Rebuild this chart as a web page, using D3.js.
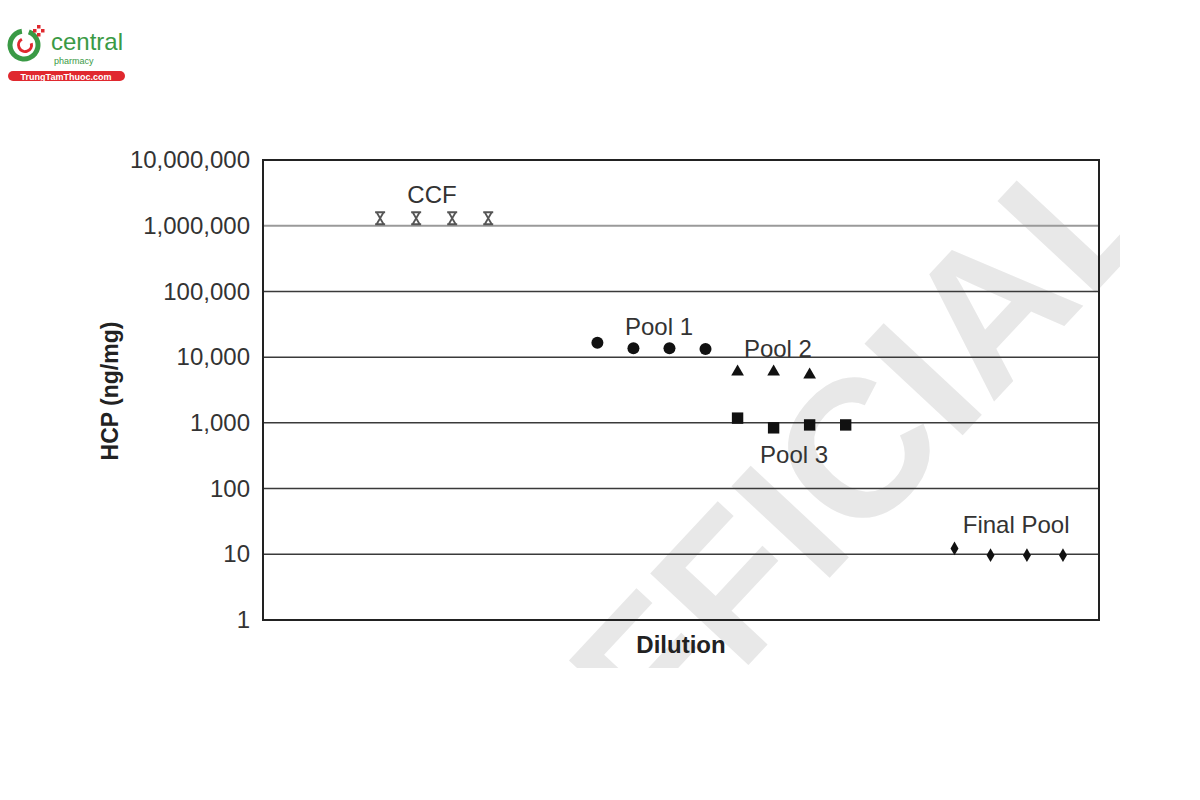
<!DOCTYPE html>
<html><head><meta charset="utf-8">
<script src="https://cdn.jsdelivr.net/npm/d3@7"></script>
<style>body{margin:0;background:#fff}svg{display:block}text{font-family:"Liberation Sans",Arial,Helvetica,sans-serif}</style>
</head><body>
<svg id="c" width="1200" height="800"></svg>
<script>
// ---- data ----
const yTicks = [1, 10, 100, 1000, 10000, 100000, 1000000, 10000000];
const ccfX = [3.25, 4.25, 5.25, 6.25];
const ccfY = [1300000, 1300000, 1300000, 1300000];
const pool1X = [9.28, 10.28, 11.28, 12.28];
const pool1Y = [16500, 13600, 13600, 13300];
const pool2X = [13.17, 14.17, 15.17];
const pool2Y = [6000, 6000, 5400];
const pool3X = [13.17, 14.17, 15.17, 16.17];
const pool3Y = [1180, 840, 930, 930];
const finalX = [19.19, 20.19, 21.2, 22.2];
const finalY = [12.3, 9.7, 9.7, 9.7];
const labels = ["CCF", "Pool 1", "Pool 2", "Pool 3", "Final Pool"];
const labelX = [4.69, 10.99, 14.29, 14.74, 20.9];
const labelY = [2200000, 21500, 10000, 245, 21];

const svg = d3.select("#c");
const L = 263, R = 1099, T = 160, B = 620;
const x = d3.scaleLinear().domain([0, 23.2]).range([L, R]);
const y = d3.scaleLog().domain([1, 1e7]).range([B, T]);

// watermark
svg.append("clipPath").attr("id","wm").append("rect").attr("x",0).attr("y",0).attr("width",1120).attr("height",668);
svg.append("g").attr("clip-path","url(#wm)")
  .append("text").attr("transform","translate(1168,215) rotate(-47)")
  .attr("text-anchor","end").attr("font-size",195).attr("font-weight","bold")
  .attr("fill","#e8e8e8").text("OFFICIAL");

// gridlines
svg.append("g").selectAll("line").data(yTicks.slice(1, -1)).join("line")
  .attr("x1", L).attr("x2", R).attr("y1", d => y(d)).attr("y2", d => y(d))
  .attr("stroke", d => d === 1000000 ? "#9a9a9a" : "#3a3a3a")
  .attr("stroke-width", d => d === 1000000 ? 2 : 1.5);

// frame
svg.append("rect").attr("x", L).attr("y", T).attr("width", R - L).attr("height", B - T)
  .attr("fill", "none").attr("stroke", "#222").attr("stroke-width", 2);

// y axis
const ax = svg.append("g").attr("transform", `translate(${L},0)`)
  .call(d3.axisLeft(y).tickValues(yTicks).tickFormat(d3.format(",")).tickSize(0).tickPadding(13));
ax.select(".domain").remove();
ax.selectAll("text").attr("font-size", 24).attr("fill", "#333")
  .attr("font-family", '"Liberation Sans",Arial,sans-serif');

// titles
svg.append("text").attr("transform", "translate(118,391) rotate(-90)").attr("text-anchor", "middle")
  .attr("font-size", 23).attr("font-weight", "bold").attr("fill", "#222").text("HCP (ng/mg)");
svg.append("text").attr("x", 681).attr("y", 653).attr("text-anchor", "middle")
  .attr("font-size", 24).attr("font-weight", "bold").attr("fill", "#222").text("Dilution");

// series labels
svg.append("g").selectAll("text").data(labels).join("text")
  .attr("x", (d, i) => x(labelX[i])).attr("y", (d, i) => y(labelY[i]))
  .attr("text-anchor", "middle").attr("font-size", 24).attr("fill", "#333").text(d => d);

// markers
const pts = (xs, ys) => xs.map((v, i) => [v, ys[i]]);
const ccfPath = "M-5,-6H5M-5,6H5M-3.5,-6L3.5,6M3.5,-6L-3.5,6";
svg.append("g").selectAll("path").data(pts(ccfX, ccfY)).join("path")
  .attr("transform", d => `translate(${x(d[0])},${y(d[1])})`)
  .attr("d", ccfPath).attr("fill", "none").attr("stroke", "#555").attr("stroke-width", 1.8);
svg.append("g").selectAll("circle").data(pts(pool1X, pool1Y)).join("circle")
  .attr("cx", d => x(d[0])).attr("cy", d => y(d[1])).attr("r", 6).attr("fill", "#111");
svg.append("g").selectAll("path").data(pts(pool2X, pool2Y)).join("path")
  .attr("transform", d => `translate(${x(d[0])},${y(d[1])})`)
  .attr("d", d3.symbol(d3.symbolTriangle, 70)()).attr("fill", "#111");
svg.append("g").selectAll("path").data(pts(pool3X, pool3Y)).join("path")
  .attr("transform", d => `translate(${x(d[0])},${y(d[1])})`)
  .attr("d", d3.symbol(d3.symbolSquare, 130)()).attr("fill", "#111");
svg.append("g").selectAll("path").data(pts(finalX, finalY)).join("path")
  .attr("transform", d => `translate(${x(d[0])},${y(d[1])})`)
  .attr("d", d3.symbol(d3.symbolDiamond, 55)()).attr("fill", "#111");

// logo
const lg = svg.append("g");
lg.append("path").attr("d", d3.arc()({innerRadius: 11.5, outerRadius: 16.5, startAngle: 0.35, endAngle: 2 * Math.PI - 0.15}))
  .attr("transform", "translate(24,45)").attr("fill", "#3a9a45");
lg.append("path").attr("d", d3.arc()({innerRadius: 5, outerRadius: 8, startAngle: 1.3, endAngle: 2 * Math.PI - 0.5}))
  .attr("transform", "translate(25,45)").attr("fill", "#e0282e");
lg.append("g").attr("fill", "#e0282e").selectAll("rect")
  .data([[37,25],[37,33],[33,29],[41,29]]).join("rect")
  .attr("x", d => d[0]).attr("y", d => d[1]).attr("width", 3.5).attr("height", 3.5);
lg.append("text").attr("x", 51).attr("y", 50).attr("font-size", 24).attr("fill", "#3a9a45").attr("font-weight", 500)
  .attr("font-family", '"Open Sans",sans-serif').text("central");
lg.append("text").attr("x", 54).attr("y", 64).attr("font-size", 9).attr("fill", "#3a9a45")
  .attr("font-family", '"Open Sans",sans-serif').text("pharmacy");
lg.append("rect").attr("x", 8).attr("y", 71).attr("width", 117).attr("height", 10).attr("rx", 5).attr("fill", "#e0282e");
lg.append("text").attr("x", 66).attr("y", 79.5).attr("text-anchor", "middle").attr("font-size", 9).attr("font-weight", "bold")
  .attr("fill", "#fff").attr("font-family", '"Open Sans",sans-serif').text("TrungTamThuoc.com");
</script>
</body></html>
